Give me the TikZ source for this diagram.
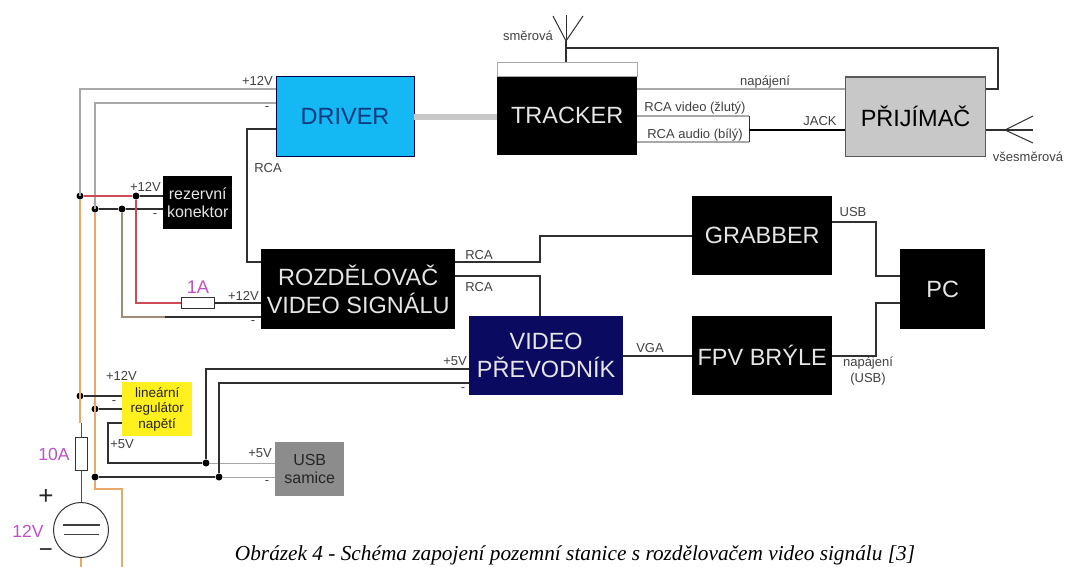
\documentclass[tikz,border=0pt]{standalone}
\usepackage{fontspec}
\setmainfont{Liberation Sans}
\newfontfamily\capfont{Liberation Serif}
\definecolor{wgray}{HTML}{A8A8A8}
\definecolor{worange}{HTML}{E8A868}
\definecolor{wred}{HTML}{D04A55}
\definecolor{wbrown}{HTML}{A08C78}
\definecolor{wdark}{HTML}{303030}
\definecolor{cyanbox}{HTML}{14B8F2}
\definecolor{navybox}{HTML}{0A0A60}
\definecolor{graybox}{HTML}{C8C8C8}
\definecolor{usbgray}{HTML}{8C8C8C}
\definecolor{yelbox}{HTML}{FFF01E}
\definecolor{lilac}{HTML}{C050C8}
\definecolor{drivertext}{HTML}{0A3A80}
\tikzset{
  blockbox/.style={anchor=north west,inner sep=0pt,align=center,font=\fontsize{23.5}{28}\selectfont},
  blackbox/.style={blockbox,fill=black,text=white!90!black},
  wire/.style={draw=wdark,line width=1.2pt},
  graywire/.style={draw=wgray,line width=1.2pt},
  thinwire/.style={draw=wgray,line width=0.8pt},
  orangewire/.style={draw=worange,line width=1.2pt},
  redwire/.style={draw=wred,line width=1.2pt},
  brownwire/.style={draw=wbrown,line width=1.2pt},
  lab/.style={font=\fontsize{13}{16}\selectfont,text=black!75,inner sep=0pt,align=center},
  purple/.style={font=\fontsize{17.5}{20}\selectfont,text=lilac,inner sep=0pt},
  dot/.style={circle,fill=black,inner sep=0pt,minimum size=7pt},
}
\begin{document}
\begin{tikzpicture}[x=1pt,y=-1pt]
\useasboundingbox (0,0) rectangle (1065,567);
% blocks
\node[blockbox,fill=cyanbox,draw=black!70!blue,line width=1pt,text=drivertext,minimum width=138pt,minimum height=79pt] (driver) at (275.5,76.5) {DRIVER};
\node[blackbox,minimum width=140pt,minimum height=79pt] (tracker) at (497,76) {TRACKER};
\node[blockbox,draw=wgray,line width=1pt,minimum width=140pt,minimum height=14pt] (cap) at (497,62) {};
\node[blockbox,fill=graybox,draw=black!65,line width=1.2pt,minimum width=140pt,minimum height=79pt] (rx) at (845,76.5) {PŘIJÍMAČ};
\node[blackbox,font=\fontsize{16}{18}\selectfont,minimum width=69pt,minimum height=53pt] (rez) at (163,176) {rezervní\\konektor};
\node[blackbox,minimum width=194pt,minimum height=80pt] (split) at (261,249) {ROZDĚLOVAČ\\VIDEO SIGNÁLU};
\node[blackbox,minimum width=140pt,minimum height=79pt] (grab) at (692,196) {GRABBER};
\node[blackbox,minimum width=85pt,minimum height=80pt] (pc) at (900,249) {PC};
\node[blackbox,fill=navybox,minimum width=154pt,minimum height=79pt] (conv) at (469,316) {VIDEO\\PŘEVODNÍK};
\node[blackbox,minimum width=140pt,minimum height=79pt] (fpv) at (692,316) {FPV BRÝLE};
\node[blockbox,fill=yelbox,text=black!85,font=\fontsize{13.5}{15.3}\selectfont,minimum width=70pt,minimum height=54pt] (reg) at (122,382) {lineární\\regulátor\\napětí};
\node[blockbox,fill=usbgray,text=black!85,font=\fontsize{16}{18}\selectfont,minimum width=69pt,minimum height=54pt] (usb) at (275,442) {USB\\samice};
\node[draw=black!80,line width=1pt,circle,minimum size=55pt,inner sep=0pt] (bat) at (81,530) {};
\node[draw=black!80,line width=1pt,fill=white,minimum width=12pt,minimum height=33pt,inner sep=0pt] (f10) at (81,453.5) {};
\node[draw=black!80,line width=1pt,fill=white,minimum width=33pt,minimum height=11pt,inner sep=0pt] (f1) at (197.5,303) {};
% junctions
\node[dot] (jpa) at (80,196) {};
\node[dot] (jpb) at (136,196) {};
\node[dot] (jma) at (95,209) {};
\node[dot] (jmb) at (122,209) {};
\node[dot] (jpc) at (80,396) {};
\node[dot] (jmc) at (95,409) {};
\node[dot] (jmd) at (95,477) {};
\node[dot] (jfa) at (206,463) {};
\node[dot] (jfb) at (219,477) {};
% free corner coordinates
\coordinate (tl) at (80,89);
\coordinate (tm) at (95,103);
\coordinate (rcab) at (247,129);
\coordinate (rcac) at (247,262);
\coordinate (ant) at (566,48);
\coordinate (anta) at (553,16);
\coordinate (antb) at (583,16);
\coordinate (antc) at (566,41);
\coordinate (antd) at (566,15);
\coordinate (antr) at (998,48);
\coordinate (rtop) at (998,89);
\coordinate (jk) at (749,130);
\coordinate (vt) at (749,116);
\coordinate (vb) at (749,142);
\coordinate (oa) at (1005,130);
\coordinate (ob) at (1033,116);
\coordinate (oc) at (1033,143);
\coordinate (od) at (1033,130);
\coordinate (low) at (95,489);
\coordinate (lowb) at (122,489);
\coordinate (end1) at (122,567);
\coordinate (end2) at (81,567);
\coordinate (kink) at (81,423);
\coordinate (r5) at (108,423);
\coordinate (b5) at (108,463);
\coordinate (v5) at (206,369);
\coordinate (vm) at (219,383);
\coordinate (lowred) at (136,303);
\coordinate (lowbr) at (122,317);
\coordinate (brend) at (165,317);
\coordinate (gyl) at (414,117);
% upper rails
\path[graywire] (jpa.center) -- (tl) -- (driver.west |- tl);
\path[graywire] (jma.center) -- (tm) -- (driver.west |- tm);
\path[wire] (driver.west |- rcab) -- (rcab) -- (rcac) -- (split.west |- rcac);
\path[draw=graybox,line width=6pt] (gyl) -- (tracker.west |- gyl);
% reserve connector
\path[redwire,line width=1.6pt] (jpa) -- (jpb);
\path[wire] (jpb) -- (rez.west |- jpb);
\path[wire] (jma) -- (jmb);
\path[wire] (jmb) -- (rez.west |- jmb);
\path[redwire] (jpb) -- (lowred) -- (f1.west |- lowred);
\path[wire] (f1.east) -- (split.west |- f1);
\path[brownwire] (jmb) -- (lowbr) -- (brend);
\path[wire] (brend) -- (split.west |- brend);
% main rails
\path[orangewire] (jpa) -- (jpa |- kink);
\path[draw=wred!70!black,line width=1pt] (kink) -- (f10.north);
\path[draw=wred!70!black,line width=1pt] (f10.south) -- (bat.north);
\path[orangewire] (jma) -- (jmd);
\path[orangewire] (jmd) -- (low) -- (lowb) -- (end1);
\path[orangewire] (bat.south) -- (end2);
% regulator
\path[wire] (jpc) -- (reg.west |- jpc);
\path[wire] (jmc) -- (reg.west |- jmc);
\path[wire] (reg.west |- r5) -- (r5) -- (b5) -- (jfa);
\path[thinwire] (jfa) -- (usb.west |- jfa);
\path[wire] (jmd) -- (jfb);
\path[thinwire] (jfb) -- (usb.west |- jfb);
\path[wire] (jfa) -- (v5) -- (conv.west |- v5);
\path[wire] (jfb) -- (vm) -- (conv.west |- vm);
% tracker and receiver
\path[wire] (cap.north -| ant) -- (antc);
\path[wire,line width=1pt] (anta) -- (antc) -- (antb);
\path[wire,line width=1pt] (antc) -- (antd);
\path[wire] (ant) -- (antr) -- (rtop) -- (rx.east |- rtop);
\path[graywire] (tracker.east |- rtop) -- (rx.west |- rtop);
\path[graywire] (tracker.east |- vt) -- (vt);
\path[graywire] (tracker.east |- vb) -- (vb);
\path[wire,line width=0.8pt] (vt) -- (vb);
\path[draw=black,line width=2.2pt] (jk) -- (rx.west |- jk);
\path[wire] (rx.east |- oa) -- (od);
\path[wire,line width=1pt] (ob) -- (oa) -- (oc);
% video paths
\coordinate (gk1) at (540,262);
\coordinate (gk2) at (540,236);
\coordinate (gk3) at (540,276);
\coordinate (uk1) at (876,222);
\coordinate (uk2) at (876,276);
\coordinate (fk1) at (876,356);
\coordinate (fk2) at (876,303);
\path[wire] (split.east |- gk1) -- (gk1) -- (gk2) -- (grab.west |- gk2);
\path[wire] (split.east |- gk3) -- (gk3) -- (conv.north -| gk3);
\path[wire] (grab.east |- uk1) -- (uk1) -- (uk2) -- (pc.west |- uk2);
\path[wire] (fpv.east |- fk1) -- (fk1) -- (fk2) -- (pc.west |- fk2);
\path[wire] (conv.east |- fk1) -- (fpv.west |- fk1);
% battery plates
\coordinate (pa1) at (63,525); \coordinate (pa2) at (100,525);
\coordinate (pb1) at (64,534); \coordinate (pb2) at (99,534);
\path[draw=black!75,line width=1.6pt] (pa1) -- (pa2);
\path[draw=black!75,line width=1pt] (pb1) -- (pb2);
% labels
\node[lab,anchor=east] (l1) at (273,81) {+12V};
\node[lab] (l3) at (267,109) {-};
\node[lab] (l4) at (268,168) {RCA};
\node[lab,anchor=east] (l5) at (161,187) {+12V};
\node[lab] (l6) at (155,216) {-};
\node[lab,anchor=east] (l7) at (259,296) {+12V};
\node[lab] (l8) at (253,323) {-};
\node[lab,anchor=east] (l9) at (137,376) {+12V};
\node[lab] (l10) at (114,403) {-};
\node[lab] (l11) at (122,444) {+5V};
\node[lab,anchor=east] (l12) at (272,453) {+5V};
\node[lab] (l13) at (267,483) {-};
\node[lab,anchor=east] (l14) at (467,361) {+5V};
\node[lab] (l15) at (463,390) {-};
\node[lab] (l16) at (528,36) {směrová};
\node[lab] (l17) at (765,82) {napájení};
\node[lab] (l18) at (695,108) {RCA video (žlutý)};
\node[lab] (l19) at (695,135) {RCA audio (bílý)};
\node[lab] (l20) at (820,121) {JACK};
\node[lab] (l21) at (1028,157) {všesměrová};
\node[lab] (l22) at (479,255) {RCA};
\node[lab] (l23) at (479,287) {RCA};
\node[lab] (l24) at (650,348) {VGA};
\node[lab] (l25) at (853,212) {USB};
\node[lab] (l26) at (868,371) {napájení\\(USB)};
\node[purple,font=\fontsize{18.3}{20}\selectfont] (p1) at (198,287) {1A};
\node[purple] (p2) at (54,454) {10A};
\node[purple] (p3) at (28,531) {12V};
\node[font=\fontsize{26}{28}\selectfont,text=black!85,inner sep=0pt] (pl) at (46,497) {+};
\node[font=\fontsize{24}{26}\selectfont,text=black!85,inner sep=0pt] (mi) at (46,553) {\textminus};
\node[anchor=base,inner sep=0pt,font=\capfont\itshape\fontsize{21.3}{24}\selectfont] (caption) at (575,560.5) {Obrázek 4 - Schéma zapojení pozemní stanice s rozdělovačem video signálu [3]};
\end{tikzpicture}
\end{document}
